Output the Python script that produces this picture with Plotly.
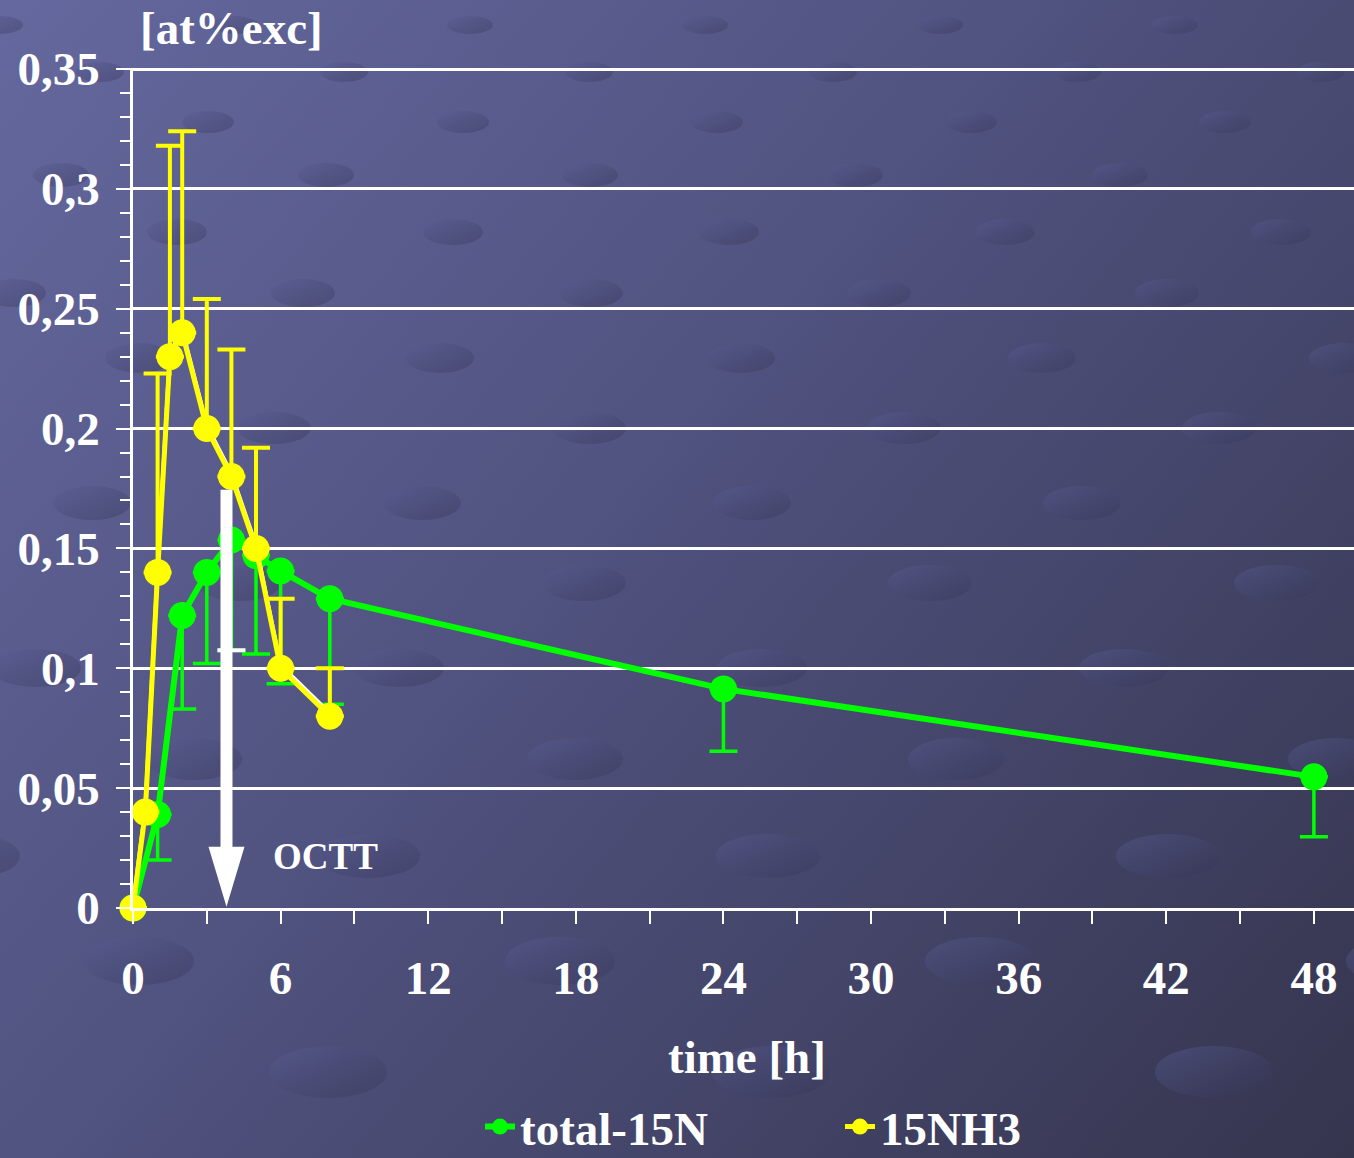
import base64
import plotly.graph_objects as go

# ---------------- data ----------------
time_nh3 = [0, 0.5, 1, 1.5, 2, 3, 4, 5, 6, 8]
nh3 = [0.0, 0.040, 0.140, 0.230, 0.240, 0.200, 0.180, 0.150, 0.100, 0.080]
nh3_err_up = [0.0, 0.0, 0.083, 0.088, 0.084, 0.054, 0.053, 0.042, 0.029, 0.020]

time_total = [0, 1, 2, 3, 4, 5, 6, 8, 24, 48]
total_15n = [0.0, 0.039, 0.122, 0.140, 0.1535, 0.147, 0.1406, 0.129, 0.0914, 0.0547]
total_err_down = [0.0, 0.019, 0.039, 0.038, 0.046, 0.041, 0.047, 0.044, 0.026, 0.025]

x_tickvals = [0, 6, 12, 18, 24, 30, 36, 42, 48]
x_ticktext = ["0", "6", "12", "18", "24", "30", "36", "42", "48"]
y_tickvals = [0, 0.05, 0.1, 0.15, 0.2, 0.25, 0.3, 0.35]
y_ticktext = ["0", "0,05", "0,1", "0,15", "0,2", "0,25", "0,3", "0,35"]

octt_time = 3.8        # OCTT marker (h)
octt_top = 0.1745      # top of the OCTT arrow

# ---------------- layout constants ----------------
W, H = 1354, 1158
X_MAX = 49.63
Y_MAX = 0.3505
GREEN = "#00ff00"
YELLOW = "#ffff00"
FONT = "Liberation Serif"
FS = 47

# ---------------- background (gradient + decorative ellipses) ----------------
ell = []
y = 25.0
row = 0
while y < H + 80:
    f = y / H
    gap_x = 230 + 230 * f
    rx = 22 + 40 * f
    ry = 9 + 18 * f
    off = (row * 0.41 % 1.0) * gap_x
    x = -gap_x + off
    while x < W + gap_x:
        ell.append(f'<ellipse cx="{x:.0f}" cy="{y:.0f}" rx="{rx:.0f}" ry="{ry:.0f}" fill="url(#eg)"/>')
        x += gap_x
    y += 45 + 80 * f
    row += 1

svg = f'''<svg xmlns="http://www.w3.org/2000/svg" width="{W}" height="{H}" viewBox="0 0 {W} {H}" preserveAspectRatio="none">
<defs>
<linearGradient id="bg" gradientUnits="userSpaceOnUse" x1="0" y1="0" x2="{W}" y2="{H}">
<stop offset="0" stop-color="#65689e"/>
<stop offset="0.45" stop-color="#50527f"/>
<stop offset="1" stop-color="#35354e"/>
</linearGradient>
<linearGradient id="eg" x1="0" y1="0" x2="1" y2="1">
<stop offset="0" stop-color="#5c5f98" stop-opacity="0.45"/>
<stop offset="1" stop-color="#30314f" stop-opacity="0.35"/>
</linearGradient>
</defs>
<rect width="{W}" height="{H}" fill="url(#bg)"/>
{''.join(ell)}
</svg>'''
bg_src = "data:image/svg+xml;base64," + base64.b64encode(svg.encode()).decode()

# ---------------- figure ----------------
fig = go.Figure()

# green: total-15N (base axes)
fig.add_trace(go.Scatter(
    x=time_total, y=total_15n, name="total-15N", mode="lines+markers",
    line=dict(color=GREEN, width=6),
    marker=dict(color=GREEN, size=27),
    error_y=dict(type="data", symmetric=False, array=[0] * len(total_err_down),
                 arrayminus=total_err_down, color=GREEN, thickness=3.5, width=14),
    xaxis="x", yaxis="y", cliponaxis=False,
))

# white highlight of the yellow line (slightly shifted upward axis)
fig.add_trace(go.Scatter(
    x=time_nh3, y=nh3, mode="lines", showlegend=False, hoverinfo="skip",
    line=dict(color="white", width=4),
    xaxis="x", yaxis="y2",
))

# yellow: 15NH3
fig.add_trace(go.Scatter(
    x=time_nh3, y=nh3, name="15NH3", mode="lines+markers",
    line=dict(color=YELLOW, width=5),
    marker=dict(color=YELLOW, size=27),
    error_y=dict(type="data", symmetric=False, array=nh3_err_up,
                 arrayminus=[0] * len(nh3_err_up), color=YELLOW, thickness=4, width=14),
    xaxis="x", yaxis="y3", cliponaxis=False,
))

x_dom = [133 / W, 1.0]
y_dom = [(H - 908) / H, (H - 908) / H + (908 - 69) / H * (Y_MAX / 0.35)]
px_per_val = (908 - 69) / 0.35
shift = 3 / px_per_val

axis_font = dict(family=FONT, size=FS, color="white", weight="bold")

fig.update_layout(
    width=W, height=H,
    margin=dict(l=0, r=0, t=0, b=0, autoexpand=False),
    paper_bgcolor="#4d4f7c",
    plot_bgcolor="rgba(0,0,0,0)",
    images=[dict(source=bg_src, xref="paper", yref="paper", x=0, y=1,
                 sizex=1, sizey=1, sizing="stretch", layer="below", xanchor="left", yanchor="top")],
    xaxis=dict(
        domain=x_dom, range=[0, X_MAX], automargin=False,
        tickvals=x_tickvals, ticktext=x_ticktext, tickfont=axis_font,
        ticks="outside", ticklen=13, tickwidth=2, tickcolor="white",
        minor=dict(dtick=3, tick0=0, ticks="outside", ticklen=13, tickwidth=2, tickcolor="white", showgrid=False),
        showline=True, linecolor="white", linewidth=2.5,
        showgrid=False, zeroline=False, ticklabelstandoff=14,
    ),
    yaxis=dict(
        domain=y_dom, range=[0, Y_MAX], automargin=False,
        tickvals=y_tickvals, ticktext=y_ticktext, tickfont=axis_font,
        ticks="outside", ticklen=14, tickwidth=2, tickcolor="white",
        minor=dict(dtick=0.01, tick0=0, ticks="outside", ticklen=10, tickwidth=2, tickcolor="white", showgrid=False),
        showline=True, linecolor="white", linewidth=2.5,
        showgrid=True, gridcolor="white", gridwidth=2.5, zeroline=False,
        ticklabelstandoff=7,
    ),
    yaxis2=dict(domain=y_dom, range=[-shift, Y_MAX - shift], overlaying="y", visible=False),
    yaxis3=dict(domain=y_dom, range=[0, Y_MAX], overlaying="y", visible=False),
    showlegend=True,
    legend=dict(
        orientation="h", xref="container", yref="container",
        x=480 / W, y=1 - 1127 / H, xanchor="left", yanchor="middle",
        font=dict(family=FONT, size=FS, color="white", weight="bold"),
        bgcolor="rgba(0,0,0,0)", entrywidth=315, entrywidthmode="pixels",
        itemsizing="trace",
    ),
)

# annotations (titles)
fig.add_annotation(text="[at%exc]", xref="paper", yref="paper", x=231 / W, y=1 - 28 / H,
                   showarrow=False, font=dict(family=FONT, size=FS, color="white", weight="bold"),
                   xanchor="center", yanchor="middle")
fig.add_annotation(text="time [h]", xref="paper", yref="paper", x=747 / W, y=1 - 1057 / H,
                   showarrow=False, font=dict(family=FONT, size=FS, color="white", weight="bold"),
                   xanchor="center", yanchor="middle")
fig.add_annotation(text="OCTT", xref="paper", yref="paper", x=325 / W, y=1 - 856 / H,
                   showarrow=False, font=dict(family=FONT, size=37, color="white", weight="bold"),
                   xanchor="center", yanchor="middle")

# OCTT arrow (shape in data coordinates)
x_px = (W - 133) / X_MAX
shaft_hw = 6 / x_px
head_hw = 18 / x_px
head_h = 60 / px_per_val
tip = 0.0005
path = (f"M {octt_time - shaft_hw} {octt_top} L {octt_time + shaft_hw} {octt_top} "
        f"L {octt_time + shaft_hw} {tip + head_h} L {octt_time + head_hw} {tip + head_h} "
        f"L {octt_time} {tip} L {octt_time - head_hw} {tip + head_h} "
        f"L {octt_time - shaft_hw} {tip + head_h} Z")
fig.add_shape(type="path", path=path, xref="x", yref="y", fillcolor="white",
              line=dict(color="white", width=0), layer="above")

# white cross-bar where the arrow covers the 4 h error bar of total-15N
i4 = time_total.index(4)
cap_hw = 14 / x_px
fig.add_shape(type="line", xref="x", yref="y",
              x0=time_total[i4] - cap_hw, x1=time_total[i4] + cap_hw,
              y0=total_15n[i4] - total_err_down[i4], y1=total_15n[i4] - total_err_down[i4],
              line=dict(color="white", width=4), layer="above")

fig.write_html(
    "out.html",
    config={"displayModeBar": False},
    post_script="document.body.style.margin='0';document.body.style.overflow='hidden';",
)
